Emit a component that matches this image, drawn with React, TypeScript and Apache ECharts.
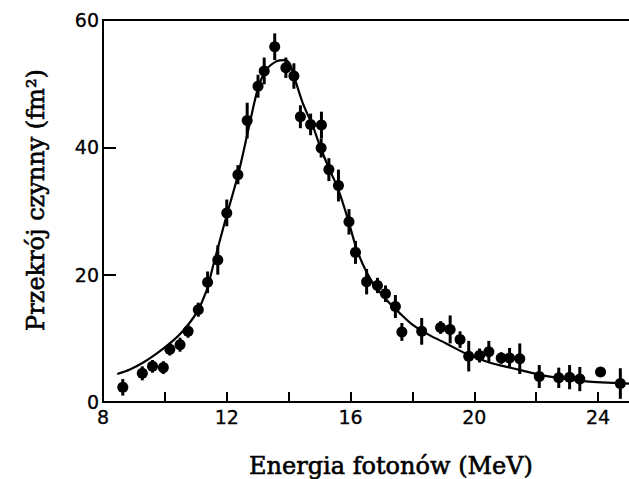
import React, { useEffect, useRef } from "react";
import * as echarts from "echarts";

// Measured points: photon energy (MeV), cross-section (fm^2), error bar half-length
const energies = [8.64, 9.27, 9.6, 9.95, 10.16, 10.49, 10.75, 11.08, 11.38, 11.71, 12.0, 12.36, 12.66, 13.01, 13.21, 13.55, 13.91, 14.17, 14.38, 14.71, 15.06, 15.05, 15.3, 15.61, 15.95, 16.16, 16.52, 16.87, 17.13, 17.45, 17.66, 18.3, 18.91, 19.22, 19.54, 19.82, 20.17, 20.47, 20.87, 21.14, 21.47, 22.1, 22.73, 23.08, 23.41, 24.08, 24.72];
const crossSections = [2.3, 4.5, 5.6, 5.4, 8.3, 9.0, 11.1, 14.5, 18.8, 22.3, 29.7, 35.7, 44.2, 49.6, 52.0, 55.8, 52.5, 51.2, 44.8, 43.6, 43.5, 39.9, 36.5, 34.0, 28.3, 23.5, 18.9, 18.3, 17.0, 15.0, 11.0, 11.1, 11.7, 11.4, 9.8, 7.2, 7.3, 7.9, 6.9, 6.9, 6.8, 4.0, 3.8, 3.9, 3.6, 4.7, 2.9];
const errors = [1.3, 1.1, 1.0, 1.0, 1.0, 1.1, 1.0, 1.1, 1.7, 2.3, 2.1, 1.5, 2.8, 1.8, 2.1, 2.1, 1.6, 2.0, 1.8, 1.7, 2.1, 1.5, 1.8, 2.5, 2.0, 1.8, 2.0, 1.2, 1.3, 1.8, 1.4, 2.1, 1.0, 2.2, 1.3, 2.4, 1.1, 1.7, 0.9, 1.6, 2.4, 1.8, 1.6, 1.9, 1.9, 0.4, 2.4];

// Fitted curve
const curveX = [8.46, 8.87, 9.3, 9.73, 10.16, 10.59, 11.02, 11.34, 11.58, 11.94, 12.37, 12.69, 13.01, 13.28, 13.6, 13.87, 14.03, 14.19, 14.46, 14.79, 15.05, 15.32, 15.59, 15.91, 16.16, 16.4, 16.72, 17.15, 17.58, 18.01, 18.55, 19.09, 19.73, 20.48, 21.24, 22.1, 22.96, 23.71, 24.57, 25.0];
const curveY = [4.4, 5.1, 6.2, 7.6, 9.2, 11.2, 14.0, 17.4, 21.8, 28.3, 35.8, 42.6, 49.3, 52.2, 53.5, 53.7, 53.2, 50.9, 46.9, 43.2, 39.7, 36.5, 33.6, 28.8, 24.6, 21.6, 18.7, 16.1, 14.0, 12.1, 10.5, 9.2, 7.6, 6.2, 5.3, 4.3, 3.6, 3.2, 3.0, 2.9];

const xTicks = [8, 10, 12, 14, 16, 18, 20, 22, 24];
const xLabels = [8, 12, 16, 20, 24];
const yTicks = [0, 20, 40, 60];

const xTitle = "Energia fotonów (MeV)";
const yTitle = "Przekrój czynny (fm²)";

export default function App() {
  const ref = useRef<HTMLDivElement>(null);
  useEffect(() => {
    if (!ref.current) return;
    const chart = echarts.init(ref.current, undefined, { renderer: "svg" });
    const labelFont = {
      fontFamily: "DejaVu Sans",
      fontSize: 19,
      color: "#000",
      textBorderColor: "#000",
      textBorderWidth: 0.3,
    };
    const titleStyle = {
      textAlign: "center",
      textVerticalAlign: "middle",
      font: "24px 'DejaVu Serif'",
      fill: "#000",
      stroke: "#000",
      lineWidth: 0.6,
    };
    const option = {
      animation: false,
      backgroundColor: "#fff",
      grid: { left: 103, top: 20, right: 0, bottom: 77, containLabel: false },
      xAxis: [
        {
          type: "value",
          min: 8,
          max: 25,
          interval: 2,
          axisLine: { show: true, onZero: false, lineStyle: { color: "#000", width: 2 } },
          axisTick: { show: true, inside: true, length: 10, customValues: xTicks, lineStyle: { color: "#000", width: 2 } },
          axisLabel: { ...labelFont, margin: 5, customValues: xLabels },
          splitLine: { show: false },
        },
        {
          type: "value",
          position: "top",
          min: 8,
          max: 25,
          axisLine: { show: true, onZero: false, lineStyle: { color: "#000", width: 2 } },
          axisTick: { show: false },
          axisLabel: { show: false },
          splitLine: { show: false },
        },
      ],
      yAxis: {
        type: "value",
        min: 0,
        max: 60,
        interval: 20,
        axisLine: { show: true, onZero: false, lineStyle: { color: "#000", width: 2 } },
        axisTick: { show: true, inside: true, length: 13, customValues: yTicks, lineStyle: { color: "#000", width: 2 } },
        axisLabel: { ...labelFont, margin: 4, customValues: yTicks },
        splitLine: { show: false },
      },
      graphic: [
        {
          type: "text",
          x: 391,
          y: 466,
          style: { ...titleStyle, text: xTitle },
        },
        {
          type: "text",
          x: 36,
          y: 200,
          rotation: Math.PI / 2,
          style: { ...titleStyle, text: yTitle },
        },
      ],
      series: [
        {
          type: "line",
          data: curveX.map((x, i) => [x, curveY[i]]),
          showSymbol: false,
          symbol: "none",
          smooth: 0.3,
          lineStyle: { color: "#000", width: 2.2 },
          z: 2,
        },
        {
          type: "custom",
          data: energies.map((x, i) => [x, crossSections[i], errors[i]]),
          renderItem: (params: any, api: any) => {
            const x = api.value(0);
            const y = api.value(1);
            const e = api.value(2);
            const p1 = api.coord([x, y - e]);
            const p2 = api.coord([x, y + e]);
            return {
              type: "line",
              shape: { x1: p1[0], y1: p1[1], x2: p2[0], y2: p2[1] },
              style: { stroke: "#000", lineWidth: 3 },
            };
          },
          z: 3,
        },
        {
          type: "scatter",
          data: energies.map((x, i) => [x, crossSections[i]]),
          symbol: "circle",
          symbolSize: 11,
          itemStyle: { color: "#000", opacity: 1 },
          z: 4,
        },
      ],
    };
    chart.setOption(option as any);
    return () => chart.dispose();
  }, []);
  return (
    <div
      ref={ref}
      style={{ position: "fixed", left: 0, top: 0, width: 629, height: 479, background: "#fff" }}
    />
  );
}
